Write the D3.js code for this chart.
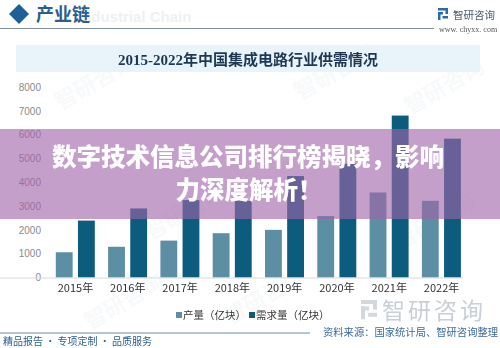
<!DOCTYPE html>
<html><head><meta charset="utf-8">
<script src="https://cdn.jsdelivr.net/npm/d3@7/dist/d3.min.js"></script>
<style>
html,body{margin:0;padding:0;background:#fff;}
svg{display:block;}
</style></head>
<body>
<script>
const years = ["2015年","2016年","2017年","2018年","2019年","2020年","2021年","2022年"];
const production = [1060, 1290, 1550, 1860, 2000, 2580, 3570, 3220];
const demand = [2390, 2900, 3250, 3220, 4260, 4780, 6800, 5830];
const seriesNames = ["产量（亿块）", "需求量（亿块）"];
const yTicks = [0,1000,2000,3000,4000,5000,6000,7000,8000];
const chartTitle = "2015-2022年中国集成电路行业供需情况";
const bannerLines = ["数字技术信息公司排行榜揭晓，影响", "力深度解析！"];

const W = 500, H = 348;
const colors = ["#5d8fa4", "#0c5c7d"];
const cjk = "'Noto Sans CJK SC', 'Noto Sans', sans-serif";

const svg = d3.select("body").append("svg").attr("width", W).attr("height", H);
svg.append("rect").attr("width", W).attr("height", H).attr("fill", "#fff");

// faint watermarks
const wm = svg.append("g").attr("fill", "#5a7c9a").attr("opacity", 0.05)
  .style("font-family", cjk).style("font-size", "22px").style("font-weight", "bold");
[[60,110],[300,100],[150,240],[400,250],[90,330],[230,325],[410,115]].forEach(p=>{
  wm.append("text").attr("transform", `translate(${p[0]},${p[1]}) rotate(-30)`).text("智研咨询");
});

// header
svg.append("path").attr("d", "M9,14 L19,4 L29,14 L19,24 Z").attr("fill", "#1f5f98");
svg.append("text").attr("x", 78).attr("y", 22).attr("fill", "#edf1f4")
  .style("font-family", "'Liberation Sans', sans-serif").style("font-size", "15px").style("font-weight", "bold")
  .text("Industrial Chain");
svg.append("text").attr("x", 36).attr("y", 21).attr("fill", "#2b5e90")
  .style("font-family", "'Liberation Serif', " + cjk).style("font-size", "18px").style("font-weight", "bold")
  .text("产业链");
svg.append("line").attr("x1", 0).attr("x2", 434).attr("y1", 28.5).attr("y2", 28.5)
  .attr("stroke", "#7e8e9a").attr("stroke-width", 1);

// top-right logo
function logoIcon(g, x, y, s, color) {
  const ig = g.append("g").attr("transform", `translate(${x},${y}) scale(${s})`).attr("fill", color);
  ig.append("rect").attr("x", 0).attr("y", 0).attr("width", 10).attr("height", 2.5);
  ig.append("rect").attr("x", 7.5).attr("y", 0).attr("width", 2.5).attr("height", 6);
  ig.append("rect").attr("x", 0).attr("y", 4).attr("width", 5).attr("height", 2.5);
  ig.append("rect").attr("x", 0).attr("y", 4).attr("width", 2.5).attr("height", 8);
  ig.append("rect").attr("x", 4.5).attr("y", 8).attr("width", 5.5).attr("height", 2.5);
}
logoIcon(svg, 438, 8, 1, "#2a6aa8");
svg.append("text").attr("x", 453).attr("y", 19).attr("fill", "#4a5a6a")
  .style("font-family", cjk).style("font-size", "10.5px").text("智研咨询");
svg.append("text").attr("x", 439).attr("y", 32).attr("fill", "#555")
  .style("font-family", "'Liberation Serif', serif").style("font-size", "8px").text("www. chyxx. com");

// title bar
svg.append("rect").attr("x", 16).attr("y", 45).attr("width", 464).attr("height", 27).attr("fill", "#e9f3fa");
svg.append("text").attr("x", 248).attr("y", 65).attr("text-anchor", "middle").attr("fill", "#1d3754")
  .style("font-family", "'Liberation Serif', " + cjk).style("font-size", "15px").style("font-weight", "bold")
  .text(chartTitle);

// scales
const y = d3.scaleLinear().domain([0, 8000]).range([277.5, 87]);
const x0 = d3.scaleBand().domain(years).range([49.3, 467.7]).padding(0);
const x1 = d3.scaleBand().domain([0,1]).range([6.5, 45.5]).paddingInner(0.24);

// y axis
const yAxis = svg.append("g").attr("transform", "translate(43,0)")
  .call(d3.axisLeft(y).tickValues(yTicks).tickSize(0).tickPadding(2).tickFormat(d3.format("d")));
yAxis.select(".domain").remove();
yAxis.selectAll("text").attr("fill", "#8a8a8a").style("font-family", "'Liberation Sans', sans-serif").style("font-size", "10px");

// bars
const groups = svg.append("g").selectAll("g").data(years).join("g")
  .attr("transform", d => `translate(${x0(d)},0)`);
groups.selectAll("rect").data((d,i) => [production[i], demand[i]]).join("rect")
  .attr("x", (d,j) => x1(j)).attr("width", x1.bandwidth())
  .attr("y", d => y(d)).attr("height", d => y(0) - y(d))
  .attr("fill", (d,j) => colors[j]);

// x axis
const xAxis = svg.append("g").attr("transform", "translate(0,277.5)")
  .call(d3.axisBottom(x0).tickSize(0).tickPadding(7));
xAxis.select(".domain").attr("stroke", "#d9d9d9").attr("d", "M-1,0.5H463");
xAxis.selectAll("text").attr("fill", "#333").style("font-family", cjk).style("font-size", "11px");

// legend
const legend = svg.append("g").style("font-family", cjk).style("font-size", "10.5px");
const legX = [176, 249];
seriesNames.forEach((n, i) => {
  legend.append("rect").attr("x", legX[i]).attr("y", 312).attr("width", 6).attr("height", 6).attr("fill", colors[i]);
  legend.append("text").attr("x", legX[i] + 7).attr("y", 319).attr("fill", "#333").text(n);
});

// bottom watermark logo
logoIcon(svg, 361, 300, 1.6, "#d3d8dd");
svg.append("text").attr("x", 382).attr("y", 319).attr("fill", "#c9cfd5")
  .style("font-family", cjk).style("font-size", "23px").attr("letter-spacing", "3px").text("智研咨询");

// footer
svg.append("line").attr("x1", 0).attr("x2", 310).attr("y1", 333).attr("y2", 333).attr("stroke", "#6d8ea8").attr("stroke-width", 1);
svg.append("text").attr("x", 3).attr("y", 345).attr("fill", "#2c5f8e")
  .style("font-family", cjk).style("font-size", "10px").text("精品报告 · 专项定制 · 品质服务");
svg.append("text").attr("x", 323).attr("y", 336).attr("fill", "#3a6b9c")
  .style("font-family", cjk).style("font-size", "10.3px").text("资料来源：国家统计局、智研咨询整理");

// banner overlay
svg.append("rect").attr("x", 0).attr("y", 129).attr("width", W).attr("height", 90)
  .attr("fill", "rgb(160,100,170)").attr("opacity", 0.62);
const bt = svg.append("g").attr("fill", "#fff").attr("text-anchor", "middle")
  .style("font-family", cjk).style("font-size", "24.5px").style("font-weight", "900");
bt.append("text").attr("x", 248).attr("y", 166).text(bannerLines[0]);
bt.append("text").attr("x", 249).attr("y", 199).text(bannerLines[1]);
</script>
</body></html>
